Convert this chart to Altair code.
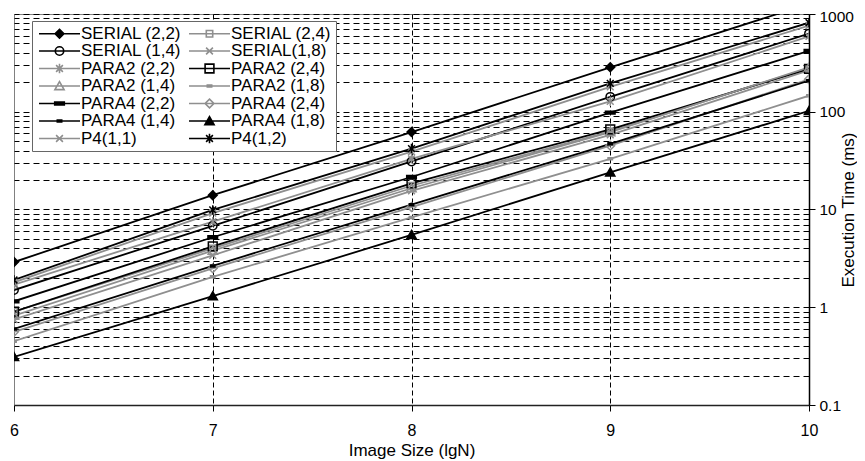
import altair as alt
import pandas as pd

x_vals = [6, 7, 8, 9, 10]

series_names = [
    "SERIAL (2,2)", "SERIAL (2,4)",
    "SERIAL (1,4)", "SERIAL(1,8)",
    "PARA2 (2,2)", "PARA2 (2,4)",
    "PARA2 (1,4)", "PARA2 (1,8)",
    "PARA4 (2,2)", "PARA4 (2,4)",
    "PARA4 (1,4)", "PARA4 (1,8)",
    "P4(1,1)", "P4(1,2)",
]

serial_22 = [2.9, 14.0, 62, 285, 1270]
serial_24 = [0.9, 4.0, 17.5, 63, 280]
serial_14 = [1.5, 6.8, 31, 142, 630]
serial_18 = [0.75, 3.4, 15.5, 58, 265]
para2_22 = [1.7, 7.5, 33, 128, 590]
para2_24 = [0.9, 4.2, 18.5, 66, 275]
para2_14 = [0.82, 3.8, 16.5, 62, 285]
para2_18 = [0.45, 2.05, 8.3, 33, 146]
para4_22 = [1.15, 5.2, 21.5, 98, 420]
para4_24 = [0.56, 2.5, 10.6, 45, 215]
para4_14 = [0.6, 2.65, 11.2, 47, 208]
para4_18 = [0.31, 1.3, 5.5, 24, 102]
p4_11 = [1.8, 9.2, 39, 180, 760]
p4_12 = [1.9, 9.9, 42, 195, 815]

series_values = [serial_22, serial_24, serial_14, serial_18, para2_22, para2_24,
                 para2_14, para2_18, para4_22, para4_24, para4_14, para4_18, p4_11, p4_12]

BLACK = "#000000"
GRAY = "#8f8f8f"
series_colors = [BLACK, GRAY, BLACK, GRAY, GRAY, BLACK, GRAY, GRAY,
                 BLACK, GRAY, BLACK, BLACK, GRAY, BLACK]

marker_paths = {
    "diamond": "M0,-1.1L1.1,0L0,1.1L-1.1,0Z",
    "small_square": "M-0.8,-0.8L0.8,-0.8L0.8,0.8L-0.8,0.8Z",
    "circle": "M1.05,0A1.05,1.05,0,1,1,-1.05,0A1.05,1.05,0,1,1,1.05,0Z",
    "x": "M-0.85,-0.85L0.85,0.85M-0.85,0.85L0.85,-0.85",
    "asterisk": "M-0.85,-0.85L0.85,0.85M-0.85,0.85L0.85,-0.85M0,-1.2L0,1.2",
    "square": "M-1.1,-1.1L1.1,-1.1L1.1,1.1L-1.1,1.1Z",
    "triangle": "M0,-1.1L1.15,0.9L-1.15,0.9Z",
    "dash": "M-0.55,-0.25L0.55,-0.25L0.55,0.25L-0.55,0.25Z",
    "bar": "M-1.2,-0.35L1.2,-0.35L1.2,0.35L-1.2,0.35Z",
}
series_markers = ["diamond", "small_square", "circle", "x", "asterisk", "square",
                  "triangle", "dash", "bar", "diamond", "dash", "triangle", "x", "asterisk"]
series_filled = [True, False, False, False, False, False, False, True,
                 True, False, True, True, False, True]

rows = []
for name, vals in zip(series_names, series_values):
    for xv, v in zip(x_vals, vals):
        rows.append({"series": name, "x": xv, "value": v})
df = pd.DataFrame(rows)

# legend fills column by column, so order the domain: left column, then right column
order = list(range(0, 14, 2)) + list(range(1, 14, 2))
dom = [series_names[i] for i in order]
col_range = [series_colors[i] for i in order]
point_shapes = [marker_paths[series_markers[i]] for i in order]
legend_shapes = ["M-5.125,0L5.125,0" + marker_paths[series_markers[i]] for i in order]
fills = [series_colors[i] if series_filled[i] else "transparent" for i in order]

y_ticks = []
for d in [0.1, 1, 10, 100]:
    for k in range(1, 10):
        y_ticks.append(round(k * d, 6))
y_ticks.append(1000)

decade = "abs(log(datum.value)/LN10 - round(log(datum.value)/LN10)) < 0.001"

FONT = "Liberation Sans"

x_enc = alt.X(
    "x:Q",
    scale=alt.Scale(domain=[6, 10], nice=False, zero=False),
    axis=alt.Axis(
        values=x_vals, format="d", grid=True, gridColor="#000", gridDash=[5, 3], gridWidth=1,
        gridOpacity={"condition": {"test": "datum.value > 6.5 && datum.value < 9.5", "value": 1}, "value": 0},
        tickSize=6, tickColor="#000", domainColor="#222", domainWidth=1.5,
        labelFontSize=16, labelPadding=11, labelFlush=False, labelColor="#000", labelFont=FONT,
        title="Image Size (lgN)", titleFontSize=17, titleFontWeight="normal", titleFont=FONT,
        titleColor="#000", titleY=50, titleBaseline="alphabetic",
    ),
)
y_enc = alt.Y(
    "value:Q",
    scale=alt.Scale(type="log", domain=[0.1, 1000], nice=False),
    axis=alt.Axis(
        orient="right", values=y_ticks, grid=True, gridColor="#000", gridDash=[6, 4], gridWidth=1,
        gridOpacity={"condition": {"test": "datum.value < 0.15", "value": 0}, "value": 1},
        tickOpacity={"condition": {"test": decade, "value": 1}, "value": 0},
        tickSize=6, tickColor="#000", domainColor="#000", domainWidth=1.5,
        labelExpr=decade + " ? format(datum.value, '~g') : ''",
        labelFontSize=15.5, labelPadding=4, labelOverlap=False, labelFlush=False,
        labelOffset={"condition": {"test": "datum.value > 500", "value": 2.5}, "value": 0},
        labelColor="#000", labelFont=FONT,
        title="Execution Time (ms)", titleFontSize=17, titleFontWeight="normal", titleFont=FONT,
        titleColor="#000", titleAngle=270, titleX=44, titleY=195.5,
        titleBaseline="alphabetic", titleAlign="center",
    ),
)

base = alt.Chart(df)

lines = base.mark_line(strokeWidth=1.8, clip=True).encode(
    x=x_enc, y=y_enc,
    color=alt.Color("series:N", scale=alt.Scale(domain=dom, range=col_range), legend=None),
)

points = base.mark_point(size=64, strokeWidth=1.5, opacity=1, clip=True).encode(
    x=x_enc, y=y_enc,
    stroke=alt.Stroke("series:N", scale=alt.Scale(domain=dom, range=col_range), legend=None),
    shape=alt.Shape("series:N", scale=alt.Scale(domain=dom, range=point_shapes), legend=None),
    fill=alt.Fill("series:N", scale=alt.Scale(domain=dom, range=fills), legend=None),
)

leg = alt.Legend(
    title=None, orient="none", legendX=18, legendY=7, columns=2,
    symbolSize=64, symbolStrokeWidth=1.6, symbolOffset=15, labelOffset=13,
    labelFontSize=17, labelFont=FONT, labelColor="#000", labelLimit=300, labelAlign="left",
    rowPadding=-0.5, columnPadding=3, padding=4,
    strokeColor="#666", fillColor="#ffffff",
)

legend_layer = base.transform_filter("datum.x > 100").mark_point(
    size=64, strokeWidth=1.6, opacity=1
).encode(
    x=x_enc, y=y_enc,
    stroke=alt.Stroke("series:N", scale=alt.Scale(domain=dom, range=col_range), legend=leg),
    shape=alt.Shape("series:N", scale=alt.Scale(domain=dom, range=legend_shapes), legend=leg),
    fill=alt.Fill("series:N", scale=alt.Scale(domain=dom, range=fills), legend=leg),
)

chart = alt.layer(lines, points, legend_layer).resolve_scale(
    stroke="independent", shape="independent", fill="independent"
).properties(
    width=795, height=391,
    padding={"left": 6, "top": 6, "right": 48, "bottom": 55},
    autosize=alt.AutoSizeParams(type="none"),
).configure(font=FONT).configure_view(
    stroke="#808080", strokeWidth=1
).configure_legend(labelAlign="left")

chart.save("out.html", embed_options={"renderer": "svg", "actions": False})
